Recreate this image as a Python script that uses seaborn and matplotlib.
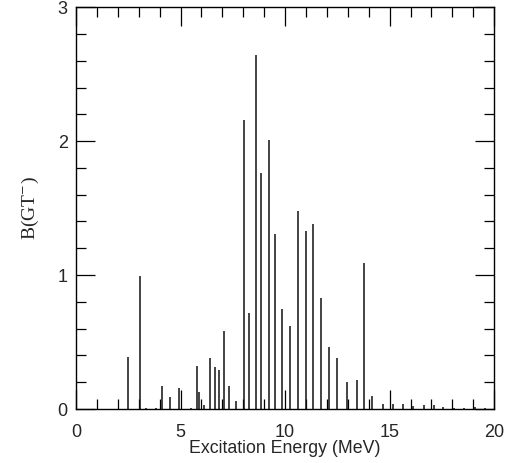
import numpy as np
import matplotlib
matplotlib.use('Agg')
import matplotlib.pyplot as plt
import seaborn as sns
from matplotlib.ticker import MultipleLocator

# Gamow-Teller strength
energy = [2.50, 3.06, 3.35, 3.83, 4.13, 4.48, 4.94, 5.49, 5.78, 5.90,
          6.14, 6.40, 6.64, 6.83, 7.06, 7.32, 7.64, 8.02, 8.29, 8.59,
          8.85, 9.21, 9.52, 9.86, 10.24, 10.64, 11.00, 11.35, 11.72, 12.11,
          12.47, 12.97, 13.46, 13.78, 14.16, 14.67, 15.17, 15.66, 16.12, 16.62,
          17.10, 17.55, 18.09, 18.58, 19.09, 19.57]
bgt = [0.39, 0.99, 0.01, 0.01, 0.17, 0.09, 0.16, 0.01, 0.32, 0.13,
       0.03, 0.38, 0.31, 0.29, 0.58, 0.17, 0.06, 2.16, 0.72, 2.64,
       1.76, 2.01, 1.31, 0.75, 0.62, 1.48, 1.33, 1.38, 0.83, 0.46,
       0.38, 0.20, 0.22, 1.09, 0.095, 0.04, 0.037, 0.035, 0.022, 0.03,
       0.03, 0.015, 0.008, 0.008, 0.015, 0.006]

sns.set_theme(style='ticks')
plt.rcParams['font.family'] = ['Liberation Sans', 'DejaVu Sans']
plt.rcParams['mathtext.fontset'] = 'stix'

fig = plt.figure(figsize=(5.1, 4.63), dpi=100)
ax = fig.add_axes([0.149, 0.1166, 0.82, 0.868])

ax.vlines(energy, 0, bgt, colors='#111111', linewidth=1.1)

ax.set_xlim(0, 20)
ax.set_ylim(0, 3)
ax.xaxis.set_major_locator(MultipleLocator(5))
ax.xaxis.set_minor_locator(MultipleLocator(1))
ax.yaxis.set_major_locator(MultipleLocator(1))
ax.yaxis.set_minor_locator(MultipleLocator(0.2))
ax.tick_params(which='both', direction='in', top=True, right=True,
               color='black', width=0.9)
ax.tick_params(which='major', length=13.5, labelsize=13)
ax.tick_params(axis='x', which='major', pad=11)
ax.tick_params(axis='y', which='major', pad=6)
ax.tick_params(which='minor', length=7)
for s in ax.spines.values():
    s.set_color('black')
    s.set_linewidth(1.0)

ax.set_xlabel('Excitation Energy (MeV)', fontsize=12.8, labelpad=-1)
ax.set_ylabel(r'B(GT$^{-}$)', fontsize=14, family='Liberation Serif', labelpad=12)

plt.savefig('out.png', dpi=100)
